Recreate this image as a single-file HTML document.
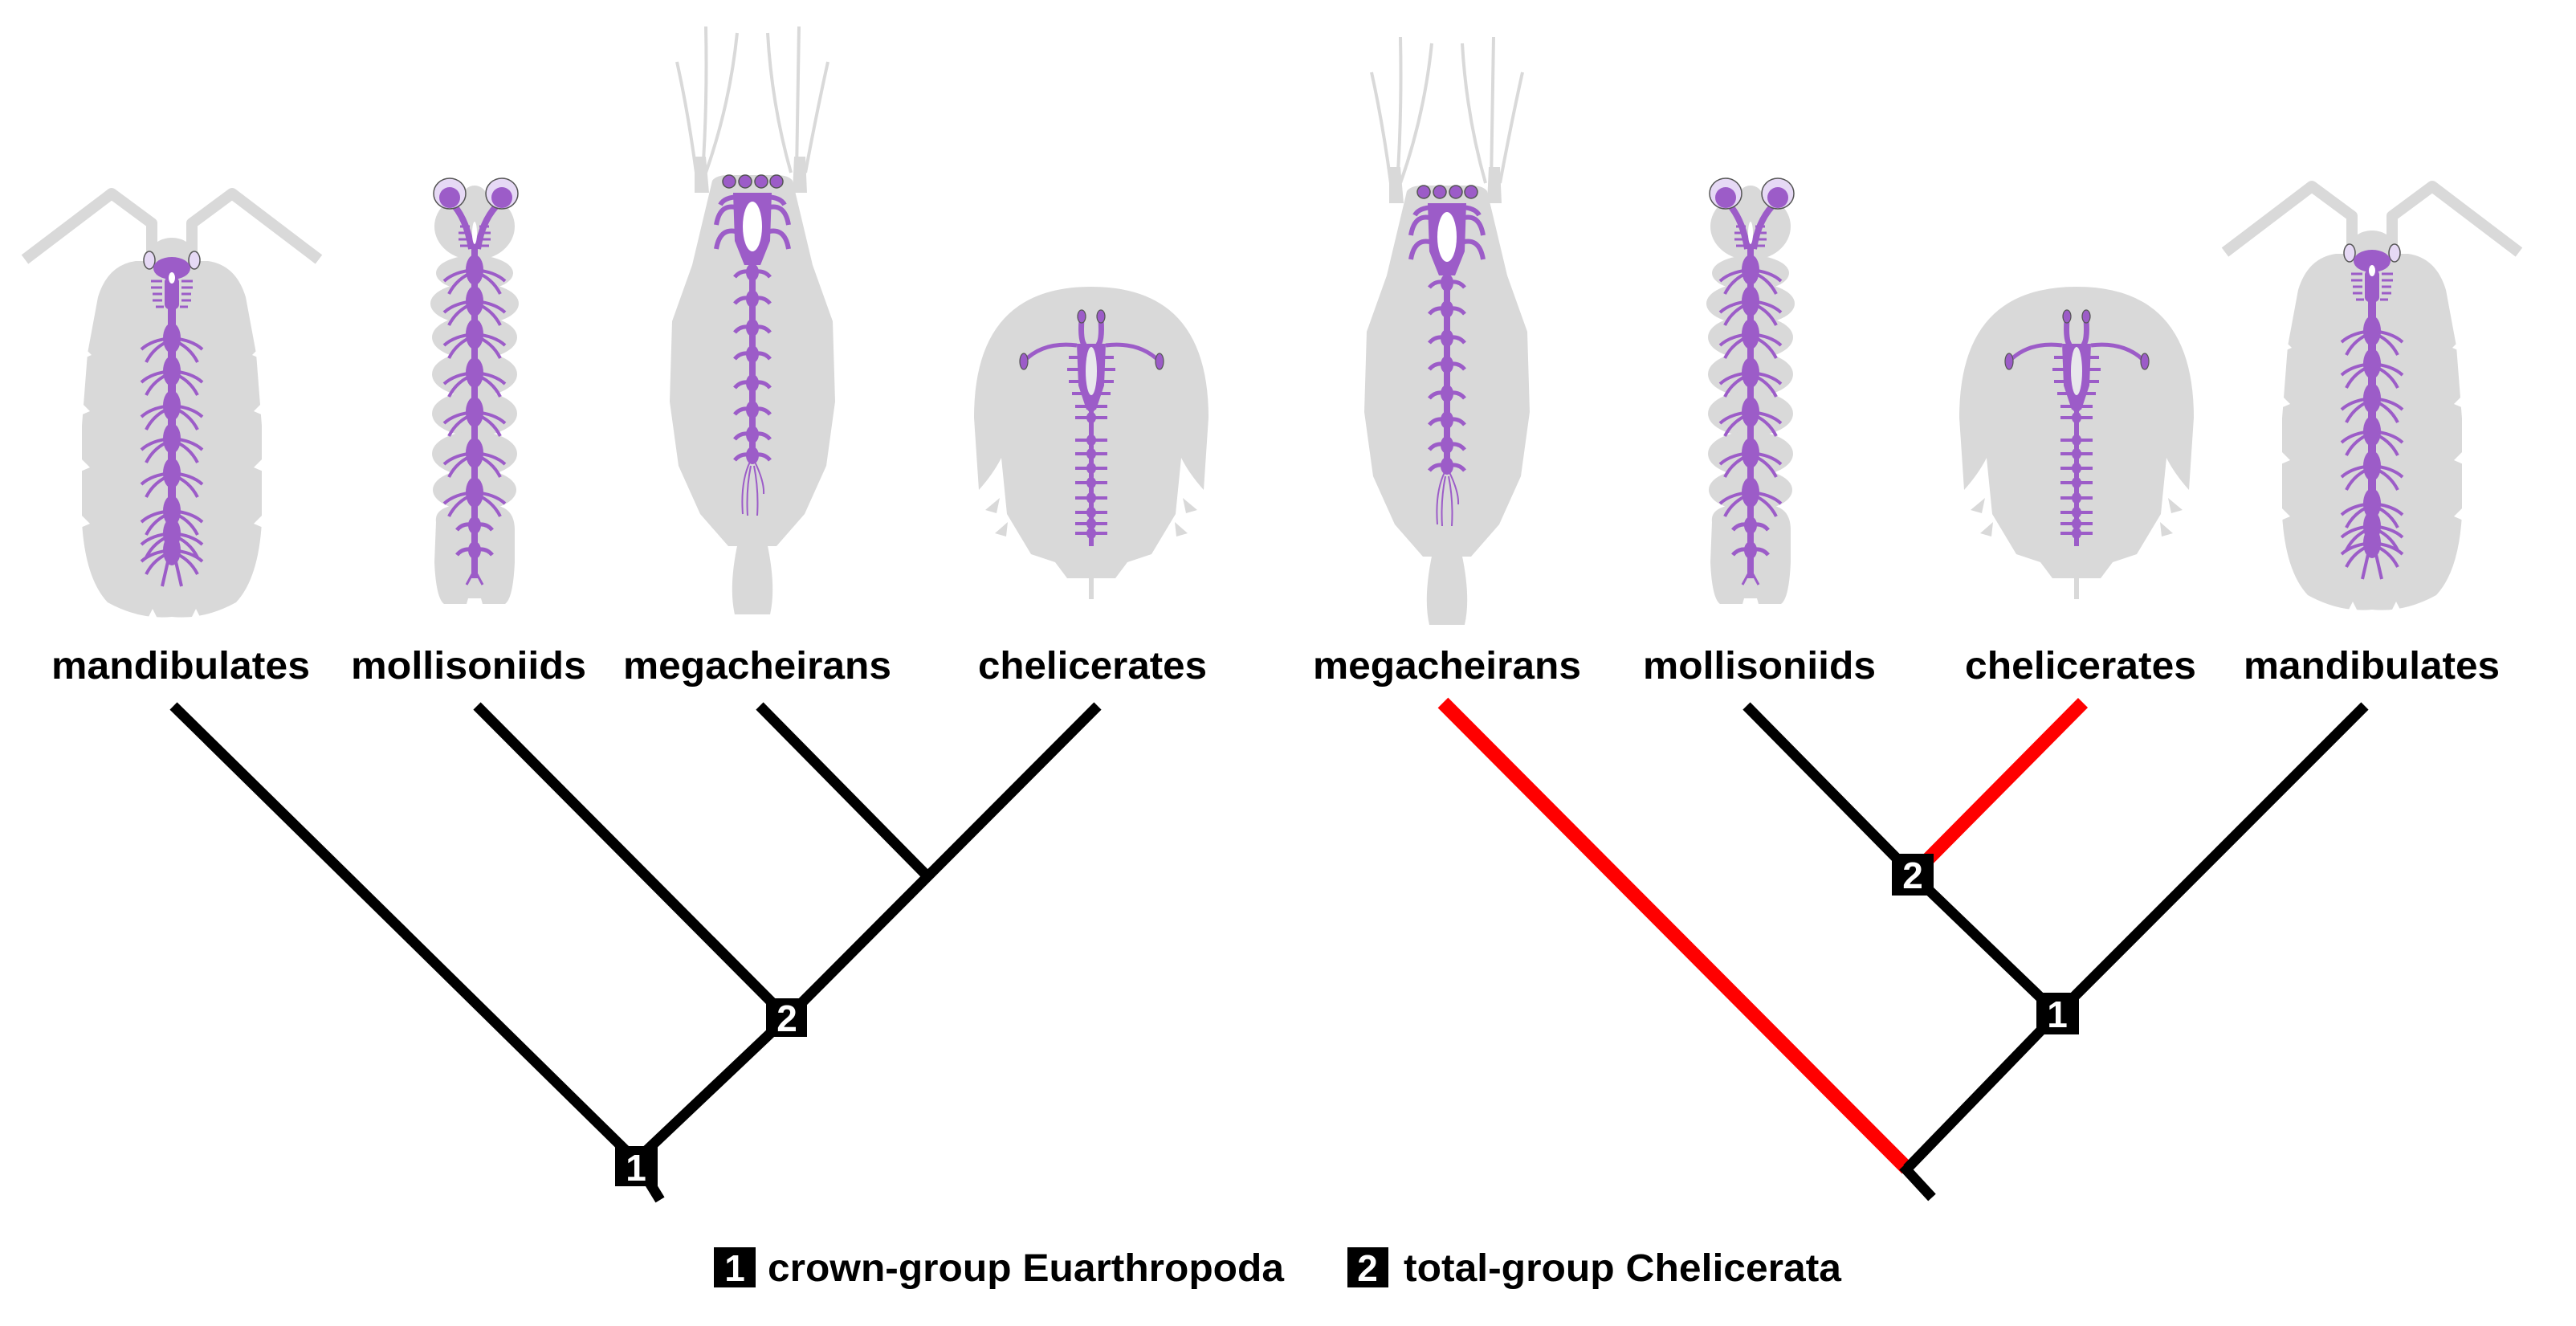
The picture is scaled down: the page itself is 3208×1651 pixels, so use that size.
<!DOCTYPE html>
<html><head><meta charset="utf-8"><style>
html,body{margin:0;padding:0;background:#fff;}
svg{display:block;}
text{font-family:"Liberation Sans",Arial,sans-serif;font-weight:bold;}
</style></head><body>
<svg width="3208" height="1651" viewBox="0 0 3208 1651" xmlns="http://www.w3.org/2000/svg">
<defs>
  <g id="g">
    <path d="M0,0 Q-25,2 -38,14 M0,2 Q-22,10 -32,30 M0,0 Q25,2 38,14 M0,2 Q22,10 32,30" stroke="#9c5cc8" stroke-width="4" fill="none"/>
    <ellipse cx="0" cy="0" rx="11" ry="19" fill="#9c5cc8"/>
  </g>
  <g id="gs">
    <path d="M0,0 Q-14,-4 -22,6 M0,0 Q14,-4 22,6" stroke="#9c5cc8" stroke-width="5" fill="none"/>
    <ellipse cx="0" cy="0" rx="8" ry="11" fill="#9c5cc8"/>
  </g>
  <g id="gt">
    <path d="M-20,0 L20,0" stroke="#9c5cc8" stroke-width="4"/>
    <ellipse cx="0" cy="0" rx="6" ry="7" fill="#9c5cc8"/>
  </g>
  <g id="mand">
    <path d="M-25,320 L-25,278 L-75,241 L-183,323 M25,320 L25,278 L75,241 L183,323" stroke="#d9d9d9" stroke-width="14" fill="none" stroke-linejoin="round"/>
    <ellipse cx="0" cy="318" rx="28" ry="22" fill="#d9d9d9"/>
    <path d="M-45,325 Q-80,330 -92,370 L-105,440 L-112,530 L-112,650 Q-108,720 -80,750 Q-40,772 0,768 Q40,772 80,750 Q108,720 112,650 L112,530 L105,440 L92,370 Q80,330 45,325 Z" fill="#d9d9d9"/>
    <path d="M-112,430 l12,12 -14,6Z M-114,500 l12,12 -14,6Z M-114,570 l12,12 -14,6Z M-114,640 l12,12 -14,6Z M112,430 l-12,12 14,6Z M114,500 l-12,12 14,6Z M114,570 l-12,12 14,6Z M114,640 l-12,12 14,6Z M-30,770 l6,-12 6,12Z M24,770 l6,-12 6,12Z" fill="#fff"/>
    <rect x="-5" y="330" width="10" height="370" fill="#9c5cc8"/>
    <ellipse cx="-28" cy="324" rx="7" ry="11" fill="#e6d9f5" stroke="#555" stroke-width="1.5"/>
    <ellipse cx="28" cy="324" rx="7" ry="11" fill="#e6d9f5" stroke="#555" stroke-width="1.5"/>
    <ellipse cx="0" cy="334" rx="23" ry="14" fill="#9c5cc8"/>
    <path d="M-12,350 h-14 M-12,358 h-14 M-12,366 h-12 M-12,374 h-12 M-10,382 h-10 M12,350 h14 M12,358 h14 M12,366 h12 M12,374 h12 M10,382 h10" stroke="#9c5cc8" stroke-width="3"/>
    <rect x="-9" y="345" width="18" height="40" rx="6" fill="#9c5cc8"/>
    <ellipse cx="0" cy="346" rx="4" ry="7" fill="#fff"/>
    <use href="#g" x="0" y="421"/><use href="#g" x="0" y="462"/><use href="#g" x="0" y="505"/>
    <use href="#g" x="0" y="546"/><use href="#g" x="0" y="589"/><use href="#g" x="0" y="636"/>
    <use href="#g" x="0" y="664"/><use href="#g" x="0" y="685"/>
    <path d="M-4,695 L-12,730 M4,695 L12,730" stroke="#9c5cc8" stroke-width="4"/>
  </g>
  <g id="moll">
    <ellipse cx="0" cy="282" rx="50" ry="42" fill="#d9d9d9"/>
    <ellipse cx="0" cy="245" rx="15" ry="14" fill="#d9d9d9"/>
    <ellipse cx="0" cy="340" rx="48" ry="22" fill="#d9d9d9"/>
    <ellipse cx="0" cy="378" rx="55" ry="26" fill="#d9d9d9"/>
    <ellipse cx="0" cy="420" rx="53" ry="27" fill="#d9d9d9"/>
    <ellipse cx="0" cy="466" rx="53" ry="28" fill="#d9d9d9"/>
    <ellipse cx="0" cy="515" rx="53" ry="28" fill="#d9d9d9"/>
    <ellipse cx="0" cy="565" rx="53" ry="28" fill="#d9d9d9"/>
    <ellipse cx="0" cy="610" rx="52" ry="26" fill="#d9d9d9"/>
    <path d="M-48,650 Q-50,635 -30,630 L30,630 Q50,635 50,660 L50,700 Q48,745 38,752 L-38,752 Q-48,745 -50,700 Z" fill="#d9d9d9"/>
    <path d="M-10,752 L10,752 L8,745 L-8,745Z" fill="#fff"/>
    <rect x="-4" y="300" width="8" height="420" fill="#9c5cc8"/>
    <path d="M-31,250 Q-10,270 -4,310 M34,250 Q10,270 4,310" stroke="#9c5cc8" stroke-width="8" fill="none"/>
    <ellipse cx="-31" cy="241" rx="20" ry="19" fill="#e6d9f5" stroke="#555" stroke-width="1.5"/>
    <ellipse cx="34" cy="241" rx="20" ry="19" fill="#e6d9f5" stroke="#555" stroke-width="1.5"/>
    <ellipse cx="-31" cy="246" rx="13" ry="13" fill="#9c5cc8"/>
    <ellipse cx="34" cy="246" rx="13" ry="13" fill="#9c5cc8"/>
    <path d="M-6,282 h-12 M-6,290 h-14 M-6,298 h-14 M-6,306 h-12 M6,282 h12 M6,290 h14 M6,298 h14 M6,306 h12" stroke="#9c5cc8" stroke-width="3"/>
    <ellipse cx="0" cy="290" rx="3" ry="14" fill="#fff"/>
    <use href="#g" x="0" y="336"/><use href="#g" x="0" y="375"/><use href="#g" x="0" y="416"/>
    <use href="#g" x="0" y="464"/><use href="#g" x="0" y="513"/><use href="#g" x="0" y="564"/>
    <use href="#g" x="0" y="613"/><use href="#gs" x="0" y="654"/><use href="#gs" x="0" y="685"/>
    <path d="M-3,715 L-10,728 M3,715 L10,728" stroke="#9c5cc8" stroke-width="3"/>
  </g>
  <g id="mega">
    <path d="M-94,77 Q-80,140 -70,215 M-58,33 Q-56,130 -62,215 M-19,41 Q-28,130 -58,215 M19,41 Q24,130 48,215 M58,33 Q56,130 55,215 M94,77 Q80,140 66,215" stroke="#d9d9d9" stroke-width="4" fill="none"/>
    <path d="M-72,195 L-58,195 L-54,240 L-72,240Z M52,195 L66,195 L68,240 L50,240Z" fill="#d9d9d9"/>
    <path d="M-50,225 Q-45,218 -30,218 L30,218 Q45,218 50,225 L75,330 L100,400 L103,500 L92,580 L65,640 L30,680 L-30,680 L-65,640 L-92,580 L-103,500 L-100,400 L-75,330 Z" fill="#d9d9d9"/>
    <path d="M-18,675 Q-30,730 -22,765 L22,765 Q30,730 18,675 Z" fill="#d9d9d9"/>
    <rect x="-4" y="300" width="8" height="275" fill="#9c5cc8"/>
    <path d="M-15,260 Q-40,250 -45,280 M-15,290 Q-40,280 -45,310 M15,260 Q40,250 45,280 M15,290 Q40,280 45,310 M-15,245 Q-35,245 -40,255 M15,245 Q35,245 40,255" stroke="#9c5cc8" stroke-width="6" fill="none"/>
    <path d="M-24,240 L24,240 L22,300 L10,330 L-10,330 L-22,300Z" fill="#9c5cc8"/>
    <ellipse cx="0" cy="282" rx="12" ry="31" fill="#fff"/>
    <circle cx="-29" cy="226" r="8" fill="#9c5cc8" stroke="#555" stroke-width="1.5"/>
    <circle cx="-9" cy="226" r="8" fill="#9c5cc8" stroke="#555" stroke-width="1.5"/>
    <circle cx="11" cy="226" r="8" fill="#9c5cc8" stroke="#555" stroke-width="1.5"/>
    <circle cx="30" cy="226" r="8" fill="#9c5cc8" stroke="#555" stroke-width="1.5"/>
    <use href="#gs" x="0" y="339"/><use href="#gs" x="0" y="372"/><use href="#gs" x="0" y="408"/>
    <use href="#gs" x="0" y="441"/><use href="#gs" x="0" y="477"/><use href="#gs" x="0" y="510"/>
    <use href="#gs" x="0" y="541"/><use href="#gs" x="0" y="567"/>
    <path d="M-3,575 Q-15,600 -12,640 M-2,580 Q-8,610 -6,642 M2,580 Q8,610 6,642 M3,575 Q15,600 14,615" stroke="#9c5cc8" stroke-width="2" fill="none"/>
  </g>
  <g id="chel">
    <path d="M-146,520 Q-146,357 0,357 Q146,357 146,520 L140,610 Q122,590 112,570 L105,640 L75,690 L45,700 L30,720 L-30,720 L-45,700 L-75,690 L-105,640 L-112,570 Q-122,590 -140,610 Z" fill="#d9d9d9"/>
    <path d="M-114,620 l-18,15 14,4Z M-104,650 l-16,14 14,4Z M114,620 l18,15 -14,4Z M104,650 l16,14 -14,4Z" fill="#d9d9d9"/>
    <rect x="-3" y="680" width="6" height="66" fill="#d9d9d9"/>
    <rect x="-3" y="470" width="6" height="210" fill="#9c5cc8"/>
    <path d="M-12,398 Q-14,425 -8,430 M12,398 Q14,425 8,430" stroke="#9c5cc8" stroke-width="7" fill="none"/>
    <path d="M-18,430 Q-60,425 -84,450 M18,430 Q60,425 85,450" stroke="#9c5cc8" stroke-width="5" fill="none"/>
    <path d="M-18,428 L18,428 L16,480 L6,510 L-6,510 L-16,480Z" fill="#9c5cc8"/>
    <ellipse cx="0" cy="462" rx="7" ry="30" fill="#e8e8ec"/>
    <path d="M-16,445 h-12 M-16,460 h-14 M-14,475 h-14 M-10,490 h-14 M16,445 h12 M16,460 h14 M14,475 h14 M10,490 h14" stroke="#9c5cc8" stroke-width="4"/>
    <ellipse cx="-12" cy="394" rx="5" ry="8" fill="#9c5cc8" stroke="#555" stroke-width="1.2"/>
    <ellipse cx="12" cy="394" rx="5" ry="8" fill="#9c5cc8" stroke="#555" stroke-width="1.2"/>
    <ellipse cx="-84" cy="450" rx="5" ry="10" fill="#9c5cc8" stroke="#555" stroke-width="1.2"/>
    <ellipse cx="85" cy="450" rx="5" ry="10" fill="#9c5cc8" stroke="#555" stroke-width="1.2"/>
    <use href="#gt" x="0" y="506"/><use href="#gt" x="0" y="520"/><use href="#gt" x="0" y="548"/>
    <use href="#gt" x="0" y="565"/><use href="#gt" x="0" y="583"/><use href="#gt" x="0" y="601"/>
    <use href="#gt" x="0" y="620"/><use href="#gt" x="0" y="638"/><use href="#gt" x="0" y="652"/><use href="#gt" x="0" y="664"/>
  </g>
</defs>

<use href="#mand" x="214" y="0"/>
<use href="#moll" x="591" y="0"/>
<use href="#mega" x="937" y="0"/>
<use href="#chel" x="1359" y="0"/>
<use href="#mega" x="1802" y="13"/>
<use href="#moll" x="2180" y="0"/>
<use href="#chel" x="2586" y="0"/>
<use href="#mand" x="2954" y="-9"/>

<g font-size="48" fill="#000">
  <text x="64" y="845" textLength="322" lengthAdjust="spacingAndGlyphs">mandibulates</text>
  <text x="437" y="845" textLength="293" lengthAdjust="spacingAndGlyphs">mollisoniids</text>
  <text x="776" y="845" textLength="334" lengthAdjust="spacingAndGlyphs">megacheirans</text>
  <text x="1218" y="845" textLength="285" lengthAdjust="spacingAndGlyphs">chelicerates</text>
  <text x="1635" y="845" textLength="334" lengthAdjust="spacingAndGlyphs">megacheirans</text>
  <text x="2046" y="845" textLength="290" lengthAdjust="spacingAndGlyphs">mollisoniids</text>
  <text x="2447" y="845" textLength="288" lengthAdjust="spacingAndGlyphs">chelicerates</text>
  <text x="2794" y="845" textLength="319" lengthAdjust="spacingAndGlyphs">mandibulates</text>
</g>

<g stroke="#000" stroke-width="13" fill="none" stroke-linecap="butt">
  <path d="M216,879 L792,1445 L822,1494"/>
  <path d="M792,1445 L980,1267 L1367,879"/>
  <path d="M594,879 L980,1267"/>
  <path d="M946,879 L1151,1087"/>
</g>
<rect x="766" y="1427" width="53" height="50" fill="#000"/>
<text x="792" y="1470" font-size="46" fill="#fff" text-anchor="middle">1</text>
<rect x="954" y="1243" width="51" height="48" fill="#000"/>
<text x="980" y="1284" font-size="46" fill="#fff" text-anchor="middle">2</text>

<path d="M1797,875 L2375,1455" stroke="#ff0000" stroke-width="18" fill="none"/>
<path d="M2382,1089 L2594,875" stroke="#ff0000" stroke-width="17" fill="none"/>
<g stroke="#000" stroke-width="13" fill="none">
  <path d="M2370,1452 L2406,1491"/>
  <path d="M2375,1455 L2562,1262 L2945,879"/>
  <path d="M2562,1262 L2382,1089 L2175,879"/>
</g>
<rect x="2536" y="1236" width="53" height="52" fill="#000"/>
<text x="2562" y="1279" font-size="46" fill="#fff" text-anchor="middle">1</text>
<rect x="2356" y="1063" width="52" height="52" fill="#000"/>
<text x="2382" y="1106" font-size="46" fill="#fff" text-anchor="middle">2</text>

<rect x="889" y="1553" width="52" height="50" fill="#000"/>
<text x="915" y="1595" font-size="46" fill="#fff" text-anchor="middle">1</text>
<text x="956" y="1595" font-size="48" fill="#000" textLength="643" lengthAdjust="spacingAndGlyphs">crown-group Euarthropoda</text>
<rect x="1678" y="1553" width="51" height="50" fill="#000"/>
<text x="1703" y="1595" font-size="46" fill="#fff" text-anchor="middle">2</text>
<text x="1748" y="1595" font-size="48" fill="#000" textLength="545" lengthAdjust="spacingAndGlyphs">total-group Chelicerata</text>
</svg>
</body></html>
